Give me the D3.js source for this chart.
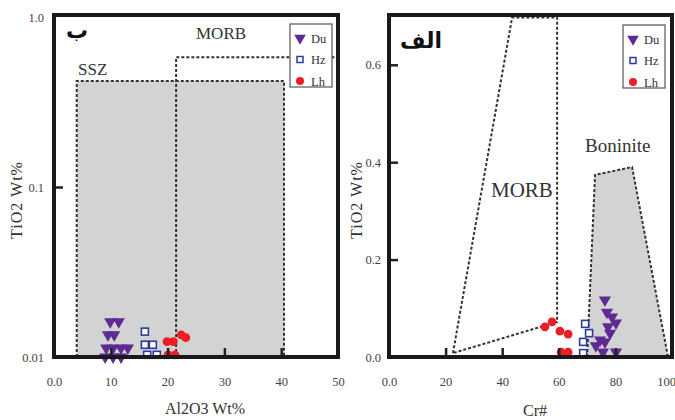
<!DOCTYPE html>
<html>
<head>
<meta charset="utf-8">
<script src="https://cdn.jsdelivr.net/npm/d3@7/dist/d3.min.js"></script>
<style>
  body { margin: 0; background: #fff; }
  svg { display: block; font-family: "Liberation Serif", "DejaVu Serif", serif; }
</style>
</head>
<body>
<div id="chart"></div>
<script>
// ---- data: left panel (ب) Al2O3 vs TiO2 (log) ----
var leftDu = [[9.9,0.0161],[11.4,0.0161],[9.5,0.0135],[10.6,0.0135],[9.2,0.0113],[10.4,0.0113],[11.8,0.0113],[13.0,0.0113],[9.0,0.0100],[10.4,0.0100],[11.8,0.0100]];
var leftHz = [[16.0,0.0141],[16.0,0.0118],[17.4,0.0118],[16.4,0.0103],[18.1,0.0103]];
var leftLh = [[19.9,0.0123],[21.0,0.0123],[22.4,0.0135],[23.2,0.0130],[20.1,0.0103],[21.3,0.0103]];
var leftSSZ = [[4,0.01],[4,0.42],[40.5,0.42],[40.5,0.01]];
var leftMORB = [[21.5,0.01],[21.5,0.58],[50,0.58]];
var leftXTicks = [0,10,20,30,40,50];
var leftYTicks = [0.01,0.1,1];

// ---- data: right panel (الف) Cr# vs TiO2 ----
var rightDu = [[76.3,0.117],[77.0,0.092],[78.8,0.082],[80.2,0.070],[77.4,0.062],[78.1,0.049],[74.6,0.035],[76.3,0.031],[73.1,0.023],[75.6,0.010],[80.2,0.010]];
var rightHz = [[69.3,0.068],[70.7,0.049],[68.6,0.031],[68.6,0.008]];
var rightLh = [[55.1,0.062],[57.6,0.072],[60.4,0.053],[63.3,0.047],[60.8,0.010],[63.3,0.010]];
var rightMORB = [[22.6,0.008],[43.5,0.697],[59.4,0.697],[59.4,0.072]];
var rightBoninite = [[70,0],[72.8,0.374],[85.9,0.39],[98.6,0]];
var rightXTicks = [0,20,40,60,80,100];
var rightYTicks = [0,0.2,0.4,0.6];

var legendNames = ["Du","Hz","Lh"];

var width = 675, height = 420;
var purple = "#5e2a94", blue = "#2b3a9e", red = "#ee1c24", grey = "#d3d3d3";

var svg = d3.select("#chart").append("svg")
  .attr("width", width).attr("height", height);

function fmt(v) {
  if (v === 0) return "0.0";
  if (v === 1) return "1.0";
  return String(v);
}

function drawMarkers(g, x, y, du, hz, lh) {
  g.selectAll(".du").data(du).enter().append("path")
    .attr("d", d3.symbol().type(d3.symbolTriangle).size(64))
    .attr("transform", function(d) { return "translate(" + x(d[0]) + "," + y(d[1]) + ") rotate(180)"; })
    .attr("fill", purple);
  g.selectAll(".hz").data(hz).enter().append("rect")
    .attr("x", function(d) { return x(d[0]) - 3.5; })
    .attr("y", function(d) { return y(d[1]) - 3.5; })
    .attr("width", 7).attr("height", 7)
    .attr("fill", "#fff").attr("stroke", blue).attr("stroke-width", 1.6);
  g.selectAll(".lh").data(lh).enter().append("circle")
    .attr("cx", function(d) { return x(d[0]); })
    .attr("cy", function(d) { return y(d[1]); })
    .attr("r", 4.4)
    .attr("fill", red);
}

function drawLegend(g, lx, ly) {
  g.append("rect").attr("x", lx).attr("y", ly).attr("width", 42).attr("height", 63)
    .attr("fill", "#fff").attr("stroke", "#555").attr("stroke-width", 1.2);
  legendNames.forEach(function(name, i) {
    var cy = ly + 14 + i * 21.5, cx = lx + 10;
    if (i === 0) {
      g.append("path").attr("d", d3.symbol().type(d3.symbolTriangle).size(58))
        .attr("transform", "translate(" + cx + "," + cy + ") rotate(180)").attr("fill", purple);
    } else if (i === 1) {
      g.append("rect").attr("x", cx - 3).attr("y", cy - 3).attr("width", 6).attr("height", 6)
        .attr("fill", "#fff").attr("stroke", blue).attr("stroke-width", 1.5);
    } else {
      g.append("circle").attr("cx", cx).attr("cy", cy).attr("r", 4).attr("fill", red);
    }
    g.append("text").attr("x", lx + 21).attr("y", cy + 4.5)
      .attr("font-size", 12.5).attr("fill", "#333").text(name);
  });
}

function drawAxes(g, x, y, xTicks, yTicks, x0, x1, y0, y1, yPad) {
  // inside ticks (no labels at ends)
  g.append("g").attr("transform", "translate(0," + y1 + ")")
    .call(d3.axisBottom(x).tickValues(xTicks.slice(1, -1)).tickSizeInner(-9).tickSizeOuter(0).tickFormat(""))
    .call(function(s) { s.select(".domain").remove(); s.selectAll("line").attr("stroke", "#222").attr("stroke-width", 2.5); });
  g.append("g").attr("transform", "translate(0," + y1 + ")")
    .call(d3.axisBottom(x).tickValues(xTicks).tickSize(0).tickPadding(20).tickFormat(fmt))
    .call(function(s) {
      s.select(".domain").remove();
      s.selectAll("text").attr("font-size", 12.5).attr("fill", "#444").attr("font-family", "Liberation Serif")
        .attr("dx", function(d) { return d === 100 ? -6 : 0; });
    });
  g.append("g").attr("transform", "translate(" + x0 + ",0)")
    .call(d3.axisLeft(y).tickValues(yTicks.slice(1, -1).concat(yTicks.length === 4 ? [yTicks[3]] : [])).tickSizeInner(-9).tickSizeOuter(0).tickFormat(""))
    .call(function(s) { s.select(".domain").remove(); s.selectAll("line").attr("stroke", "#222").attr("stroke-width", 2.5); });
  g.append("g").attr("transform", "translate(" + x0 + ",0)")
    .call(d3.axisLeft(y).tickValues(yTicks).tickSize(0).tickPadding(yPad).tickFormat(fmt))
    .call(function(s) { s.select(".domain").remove(); s.selectAll("text").attr("font-size", 12.5).attr("fill", "#444").attr("font-family", "Liberation Serif"); });
  // frame
  g.append("rect").attr("x", x0).attr("y", y0).attr("width", x1 - x0).attr("height", y1 - y0)
    .attr("fill", "none").attr("stroke", "#1a1a1a").attr("stroke-width", 4);
}

var line = function(x, y) {
  return d3.line().x(function(d) { return x(d[0]); }).y(function(d) { return y(d[1]); });
};

// ---------- left panel ----------
(function() {
  var x0 = 54, x1 = 338, y0 = 15, y1 = 357;
  var x = d3.scaleLinear().domain([0, 50]).range([x0, x1]);
  var y = d3.scaleLog().domain([0.01, 1]).range([y1, 17]);
  var g = svg.append("g");

  g.append("path").attr("d", line(x, y)(leftSSZ) + "Z")
    .attr("fill", grey).attr("stroke", "#333").attr("stroke-width", 2).attr("stroke-dasharray", "3,2");
  g.append("path").attr("d", line(x, y)(leftMORB))
    .attr("fill", "none").attr("stroke", "#333").attr("stroke-width", 2).attr("stroke-dasharray", "3,2");

  drawMarkers(g, x, y, leftDu, leftHz, leftLh);
  drawAxes(g, x, y, leftXTicks, leftYTicks, x0, x1, y0, y1, 10);
  drawLegend(g, 290, 24);

  g.append("text").attr("x", 196).attr("y", 39).attr("font-size", 17).attr("fill", "#333").text("MORB");
  g.append("text").attr("x", 78).attr("y", 75).attr("font-size", 17).attr("fill", "#333").text("SSZ");
  g.append("text").attr("x", 66).attr("y", 38).attr("font-size", 22).attr("font-weight", "bold")
    .attr("font-family", "DejaVu Sans").attr("fill", "#111").text("ب");

  g.append("text").attr("x", 205).attr("y", 414).attr("text-anchor", "middle")
    .attr("font-size", 16).attr("fill", "#333").text("Al2O3 Wt%");
  g.append("text").attr("transform", "translate(22,200) rotate(-90)").attr("text-anchor", "middle")
    .attr("font-size", 16).attr("letter-spacing", 1).attr("fill", "#333").text("TiO2 Wt%");
})();

// ---------- right panel ----------
(function() {
  var x0 = 389, x1 = 672, y0 = 15, y1 = 357;
  var x = d3.scaleLinear().domain([0, 100]).range([x0, x1]);
  var y = d3.scaleLinear().domain([0, 0.7]).range([y1, y1 - 0.7 * 487]);
  var g = svg.append("g");

  g.append("path").attr("d", line(x, y)(rightBoninite) + "Z")
    .attr("fill", grey).attr("stroke", "#333").attr("stroke-width", 2).attr("stroke-dasharray", "3,2");
  g.append("path").attr("d", line(x, y)(rightMORB) + "Z")
    .attr("fill", "none").attr("stroke", "#333").attr("stroke-width", 2).attr("stroke-dasharray", "3,2");

  drawMarkers(g, x, y, rightDu, rightHz, rightLh);
  drawAxes(g, x, y, rightXTicks, rightYTicks, x0, x1, y0, y1, 8);
  drawLegend(g, 623, 25);

  g.append("text").attr("x", 491).attr("y", 197).attr("font-size", 21).attr("fill", "#333").text("MORB");
  g.append("text").attr("x", 585).attr("y", 152).attr("font-size", 19).attr("fill", "#333").text("Boninite");
  g.append("text").attr("x", 400).attr("y", 48).attr("font-size", 22).attr("font-weight", "bold")
    .attr("font-family", "DejaVu Sans").attr("fill", "#111").text("الف");

  g.append("text").attr("x", 535).attr("y", 416).attr("text-anchor", "middle")
    .attr("font-size", 16).attr("fill", "#333").text("Cr#");
  g.append("text").attr("transform", "translate(362,200) rotate(-90)").attr("text-anchor", "middle")
    .attr("font-size", 16).attr("letter-spacing", 1).attr("fill", "#333").text("TiO2 Wt%");
})();
</script>
</body>
</html>
